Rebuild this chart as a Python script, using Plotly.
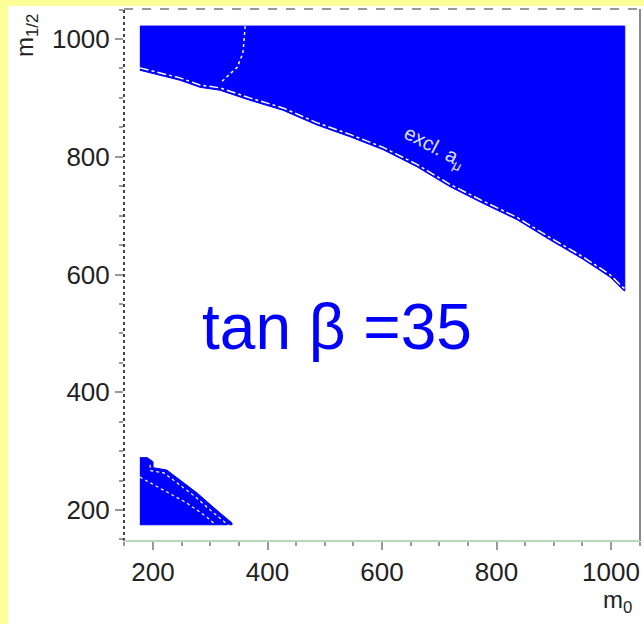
import plotly.graph_objects as go

# Upper excluded region boundary (m0, m1/2)
upper_m0 = [177, 212, 247, 282, 317, 369, 427, 486, 544, 602, 661, 719, 776, 836, 893, 951, 998, 1021, 1024]
upper_m12 = [947, 939, 930, 918, 913, 896, 879, 854, 834, 812, 783, 749, 721, 693, 659, 626, 596, 574, 572]
upper_top = 1022

# Contour inside upper region
cont_m0 = [361, 359, 357, 347, 331, 317]
cont_m12 = [1022, 998, 976, 952, 937, 925]

# Lower-left excluded region boundary
lower_m0 = [177, 190, 200, 200, 224, 247, 277, 305, 338, 338]
lower_m12 = [289, 289, 282, 272, 268, 251, 229, 205, 178, 175]
lower_bottom = 175

# Inner dashed line in lower region
inner_m0 = [177, 217, 259, 294, 308]
inner_m12 = [256, 234, 212, 188, 176]

x_ticks = [200, 400, 600, 800, 1000]
y_ticks = [200, 400, 600, 800, 1000]

BLUE = "#0000FF"
fig = go.Figure()

# Upper region polygon
ux = [upper_m0[0], upper_m0[-1]] + upper_m0[::-1]
uy = [upper_top, upper_top] + upper_m12[::-1]
fig.add_trace(go.Scatter(x=ux, y=uy, fill="toself", fillcolor=BLUE, mode="lines",
                         line=dict(color=BLUE, width=1), hoverinfo="skip"))
fig.add_trace(go.Scatter(x=upper_m0, y=[v + 4 for v in upper_m12], mode="lines",
                         line=dict(color="white", width=1.5, dash="dashdot"), hoverinfo="skip"))
fig.add_trace(go.Scatter(x=cont_m0, y=cont_m12, mode="lines",
                         line=dict(color="white", width=1.5, dash="dot"), hoverinfo="skip"))

# Lower region polygon
lx = lower_m0 + [lower_m0[0]]
ly = lower_m12[:-1] + [lower_bottom, lower_bottom]
fig.add_trace(go.Scatter(x=lx, y=ly, fill="toself", fillcolor=BLUE, mode="lines",
                         line=dict(color=BLUE, width=1), hoverinfo="skip"))
fig.add_trace(go.Scatter(x=inner_m0, y=inner_m12, mode="lines",
                         line=dict(color="white", width=1.2, dash="dot"), hoverinfo="skip"))
fig.add_trace(go.Scatter(x=[m - 5 for m in lower_m0[2:-1]], y=[m - 5 for m in lower_m12[2:-1]], mode="lines",
                         line=dict(color="white", width=1.2, dash="dot"), hoverinfo="skip"))

L, T, W, H = 124, 9, 516, 532
def px(x): return (x - L) / W
def py(y): return (T + H - y) / H

FONT = "Liberation Sans, Arial"
shapes = [
    # white page area over the yellow paper, leaving yellow strips at left and top
    dict(type="rect", xref="paper", yref="paper", x0=px(8), x1=px(650), y0=py(630), y1=py(6),
         fillcolor="white", line=dict(width=0), layer="below"),
    dict(type="line", xref="paper", yref="paper", x0=0, x1=0, y0=0, y1=1,
         line=dict(color="#444444", width=2, dash="dot")),
    dict(type="line", xref="paper", yref="paper", x0=0, x1=1, y0=1, y1=1,
         line=dict(color="#777777", width=1.5, dash="dash")),
    dict(type="line", xref="paper", yref="paper", x0=1, x1=1, y0=0, y1=1,
         line=dict(color="#888888", width=2)),
    dict(type="line", xref="paper", yref="paper", x0=0, x1=1, y0=0, y1=0,
         line=dict(color="#b8d8b8", width=2)),
]

annotations = [
    dict(x=521, y=511, xref="x", yref="y", text="tan β =35", showarrow=False,
         xanchor="center", yanchor="middle",
         font=dict(family=FONT, size=64, color=BLUE)),
    dict(x=690, y=815, xref="x", yref="y", text="excl. a<sub>μ</sub>", showarrow=False,
         xanchor="center", yanchor="middle", textangle=28,
         font=dict(family=FONT, size=20, color="#dde0f0")),
    dict(x=px(634), y=py(584), xref="paper", yref="paper", text="m<sub>0</sub>", showarrow=False,
         xanchor="right", yanchor="top",
         font=dict(family=FONT, size=24, color="#222222")),
    dict(x=px(27), y=py(36), xref="paper", yref="paper", text="m<sub>1/2</sub>", showarrow=False,
         xanchor="center", yanchor="middle", textangle=-90,
         font=dict(family=FONT, size=24, color="#222222")),
]

axis_common = dict(showgrid=False, zeroline=False, showline=False, ticks="outside", ticklen=8,
                   tickwidth=2, tickcolor="#999999",
                   tickfont=dict(family=FONT, size=26, color="#222222"),
                   minor=dict(ticks="outside", ticklen=4, tickwidth=1.5, tickcolor="#999999", dtick=50, showgrid=False))

fig.update_layout(
    width=644, height=624,
    margin=dict(l=L, r=644 - L - W, t=T, b=624 - T - H),
    paper_bgcolor="#FFFF99", plot_bgcolor="white",
    showlegend=False,
    xaxis=dict(range=[149.3, 1050.6], tickvals=x_ticks, ticktext=[str(v) for v in x_ticks], **axis_common),
    yaxis=dict(range=[147.4, 1051], tickvals=y_ticks, ticktext=[str(v) for v in y_ticks], **axis_common),
    shapes=shapes, annotations=annotations,
)
fig.write_html("out.html", config={"displayModeBar": False},
               post_script="document.body.style.margin='0';")
